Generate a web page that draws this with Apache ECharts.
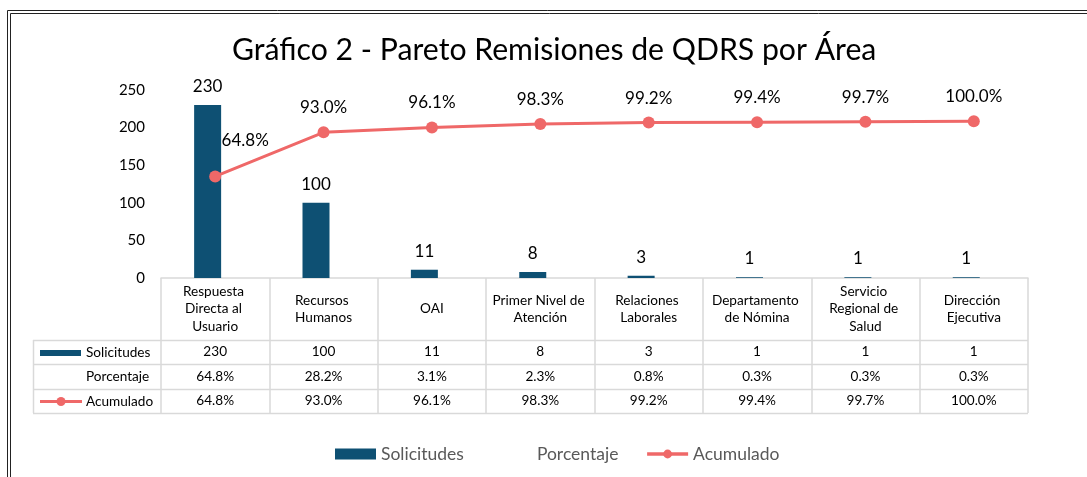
<!DOCTYPE html>
<html><head><meta charset="utf-8">
<script src="https://cdn.jsdelivr.net/npm/echarts@6/dist/echarts.min.js"></script>
<style>html,body{margin:0;padding:0;background:#fff}#c{width:1087px;height:477px}</style>
</head><body><div id="c"></div>
<script>
const chartTitle = 'Gráfico 2 - Pareto Remisiones de QDRS por Área';
const categories = ['Respuesta Directa al Usuario','Recursos Humanos','OAI','Primer Nivel de Atención','Relaciones Laborales','Departamento de Nómina','Servicio Regional de Salud','Dirección Ejecutiva'];
const seriesNames = ['Solicitudes','Porcentaje','Acumulado'];
const solicitudes = [230,100,11,8,3,1,1,1];
const porcentaje = [64.8,28.2,3.1,2.3,0.8,0.3,0.3,0.3];
const acumulado = [64.8,93.0,96.1,98.3,99.2,99.4,99.7,100.0];

const F = 'Lato, "Open Sans", sans-serif';
const BAR = '#0E5073';
const LINE = '#EF6868';
const GRIDC = '#d9d9d9';
const G_LEFT = 161, G_RIGHT = 1028, G_TOP = 90, G_BOT = 278;
const ROW_Y = [340, 364, 389, 413];
const T_LEFT = 33;
const TFS = 13.6;

const chart = echarts.init(document.getElementById('c'), null, {renderer:'canvas'});
const pct = v => v.toFixed(1) + '%';

function rowAxis(offset, fmt) {
  return {
    type:'category', data:categories, position:'bottom', offset:offset,
    axisLine:{show:false, onZero:false}, axisTick:{show:false},
    axisLabel:{interval:0, margin:0, verticalAlign:'middle', fontSize:TFS, fontFamily:F, color:'#000',
      formatter:(v,i)=>fmt(i)}
  };
}

const graphics = [
  {type:'rect', shape:{x:7.5,y:10.5,width:1200,height:600}, style:{fill:'none', stroke:'#222', lineWidth:1}, silent:true},
  {type:'rect', shape:{x:10.5,y:13.5,width:1200,height:600}, style:{fill:'none', stroke:'#222', lineWidth:1}, silent:true},
  {type:'line', shape:{x1:T_LEFT+0.5,y1:ROW_Y[0],x2:T_LEFT+0.5,y2:ROW_Y[3]}, style:{stroke:GRIDC, lineWidth:1.5}, silent:true}
];
ROW_Y.forEach(y => graphics.push({type:'line', shape:{x1:T_LEFT, y1:y+0.5, x2:G_RIGHT, y2:y+0.5}, style:{stroke:GRIDC, lineWidth:1.5}, silent:true}));
seriesNames.forEach((n, k) => {
  const cy = (ROW_Y[k] + ROW_Y[k+1]) / 2 + 0.5;
  graphics.push({type:'text', style:{text:n, x:86, y:cy, fontSize:TFS, fontFamily:F, fill:'#000', verticalAlign:'middle', align:'left'}, silent:true});
});
graphics.push({type:'rect', shape:{x:40, y:350, width:41, height:6}, style:{fill:BAR}, silent:true});
graphics.push({type:'line', shape:{x1:40, y1:401.5, x2:82, y2:401.5}, style:{stroke:LINE, lineWidth:3}, silent:true});
graphics.push({type:'circle', shape:{cx:61, cy:401.5, r:4.5}, style:{fill:LINE}, silent:true});

chart.setOption({
  animation:false,
  backgroundColor:'#fff',
  title:{text:chartTitle, left:227, top:30, textStyle:{fontSize:30.2, fontWeight:'normal', color:'#000', fontFamily:F}},
  legend:{left:330, top:440, itemWidth:41, itemHeight:11, itemGap:27,
    textStyle:{fontSize:17.5, color:'#595959', fontFamily:F},
    data:[{name:seriesNames[0], icon:'rect'}, {name:seriesNames[1], icon:'rect'},
      {name:seriesNames[2], lineStyle:{width:3.5}}]},
  grid:{left:G_LEFT, right:1087-G_RIGHT, top:G_TOP, bottom:477-G_BOT, containLabel:false},
  xAxis:[
    {type:'category', data:categories, position:'bottom',
      axisLine:{show:true, onZero:false, lineStyle:{color:GRIDC, width:1.5}},
      axisTick:{show:true, length:135, interval:0, lineStyle:{color:GRIDC, width:1.5}},
      axisLabel:{interval:0, margin:31, verticalAlign:'middle', width:97, overflow:'break', lineHeight:17.5,
        fontSize:TFS, fontFamily:F, color:'#000'}},
    rowAxis(74, i => String(solicitudes[i])),
    rowAxis(98.5, i => pct(porcentaje[i])),
    rowAxis(123, i => pct(acumulado[i]))
  ],
  yAxis:[
    {type:'value', min:0, max:250, interval:50,
      axisLine:{show:false}, axisTick:{show:false}, splitLine:{show:false},
      axisLabel:{fontSize:15, color:'#000', margin:16, fontFamily:F}},
    {type:'value', min:0, max:120, show:false, splitLine:{show:false}}
  ],
  series:[
    {name:seriesNames[0], type:'bar', data:solicitudes, barWidth:27, barGap:'-44%',
      itemStyle:{color:BAR},
      label:{show:true, position:'top', distance:10, fontSize:17, color:'#000', fontFamily:F}},
    {name:seriesNames[1], type:'bar', yAxisIndex:1, data:porcentaje, barWidth:27, barGap:'-44%',
      itemStyle:{color:'rgba(0,0,0,0)'}, emphasis:{disabled:true}},
    {name:seriesNames[2], type:'line', yAxisIndex:1,
      data:acumulado.map((v,i) => i === 0 ? {value:v, label:{offset:[30,-11]}} : v),
      symbol:'circle', symbolSize:12, lineStyle:{color:LINE, width:3}, itemStyle:{color:LINE},
      label:{show:true, position:'top', distance:10, fontSize:17, color:'#000', fontFamily:F,
        formatter:p => pct(p.value)}}
  ],
  graphic:graphics
});
</script></body></html>
